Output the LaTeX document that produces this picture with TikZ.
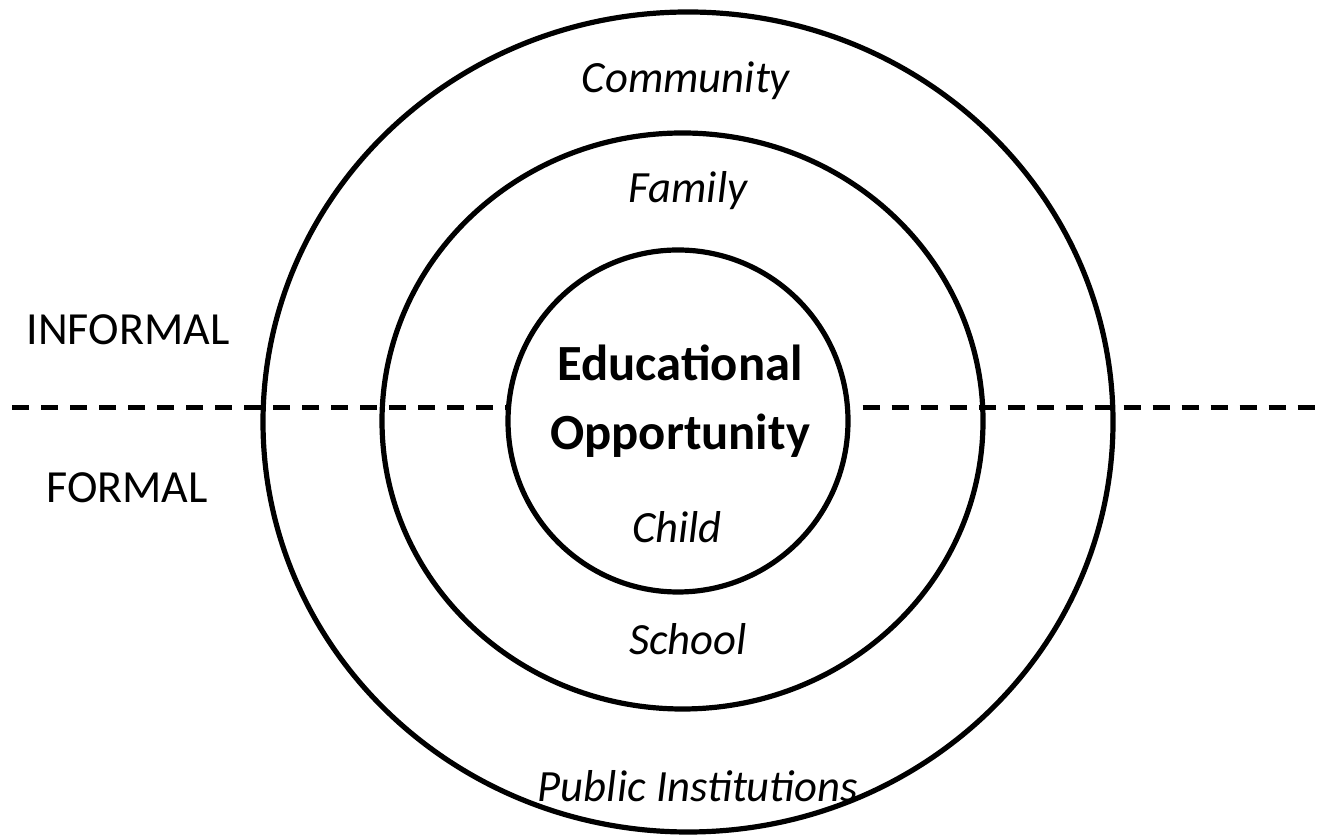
\documentclass[tikz,border=0pt]{standalone}
\usepackage{fontspec}
\setmainfont{Carlito}
\usetikzlibrary{shapes,positioning}

\begin{document}
\begin{tikzpicture}[x=0.75pt,y=0.75pt,
    ring/.style={draw,ellipse,line width=3.9pt,inner sep=0pt},
    layer/.style={font=\fontsize{33.5}{40}\selectfont\itshape,anchor=base},
    side/.style={font=\fontsize{34.5}{40}\selectfont,anchor=base},
    title/.style={font=\fontsize{38}{44}\selectfont\bfseries,anchor=base},
    divide/.style={line width=3.75pt,dash pattern=on 12.75pt off 9pt,dash phase=12.75pt}]
        \useasboundingbox (0,0) rectangle (1326,837);

        % three rings
        \node [ring,minimum width=637.5pt,minimum height=615pt] (community) at (688,415) {};
        \node [ring,minimum width=450.75pt,minimum height=432pt] (family) at (682.5,416) {};
        \node [ring,minimum width=255pt,minimum height=256.5pt] (child) at (678,416) {};

        % informal / formal divide
        \coordinate (left) at (0,429);
        \coordinate (right) at (1326,429);
        \draw [divide] (left) -- (left -| child.west);
        \draw [divide] (child.east |- right) -- (right);

        % labels
        \node [layer] (communitytext) at (686,744) {Community};
        \node [layer] (familytext) at (688,634) {Family};
        \node [title] (edu) at (680,456) {Educational};
        \node [title] (opp) at (680,387) {Opportunity};
        \node [layer] (childtext) at (677,294) {Child};
        \node [layer] (schooltext) at (688,182) {School};
        \node [layer] (publictext) at (698,35) {Public Institutions};
        \node [side] (informal) at (128,492) {INFORMAL};
        \node [side] (formal) at (127,334) {FORMAL};
\end{tikzpicture}
\end{document}
